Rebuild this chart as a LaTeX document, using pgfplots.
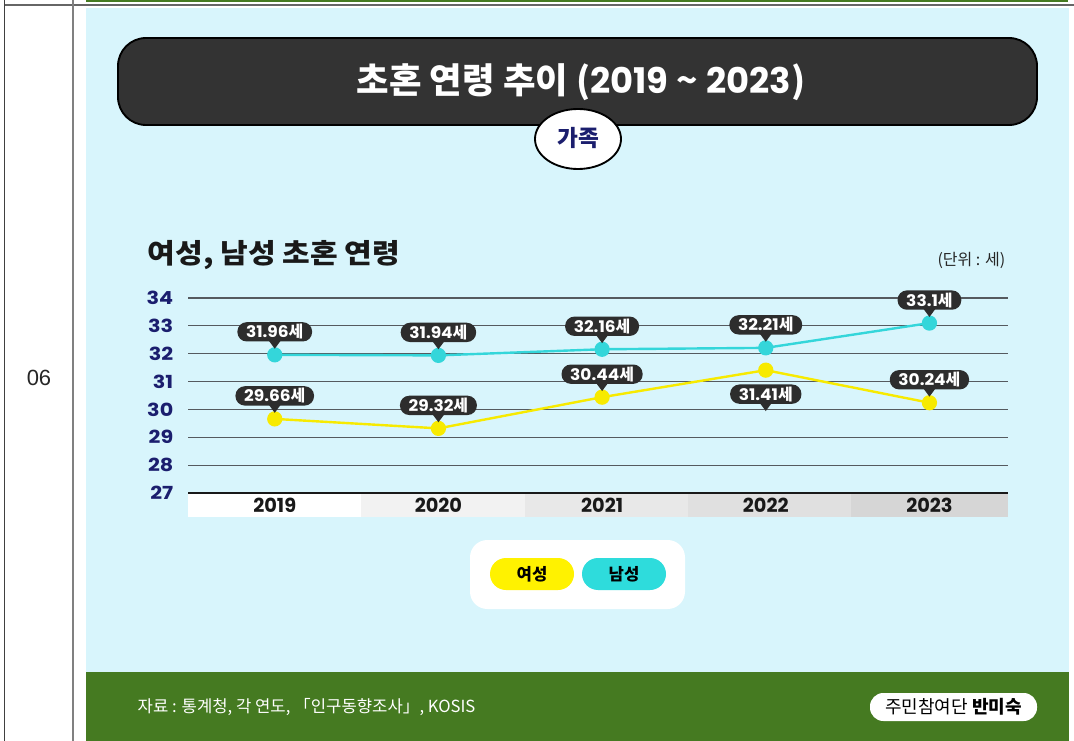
\documentclass[border=0pt]{standalone}
\usepackage{fontspec}
\setmainfont{Noto Sans CJK KR}
\newfontfamily\pop{Poppins}
\newfontfamily\lib{Liberation Sans}
\usepackage{graphicx}
\usepackage{pgfplots}
\usepackage{pgfplotstable}
\pgfplotsset{compat=1.18}

\definecolor{panel}{RGB}{216,245,252}
\definecolor{gfoot}{RGB}{69,122,33}
\definecolor{titlebg}{RGB}{51,51,51}
\definecolor{labbg}{RGB}{45,45,45}
\definecolor{navy}{RGB}{27,30,110}
\definecolor{malec}{RGB}{52,214,218}
\definecolor{femc}{RGB}{247,234,0}
\definecolor{maleleg}{RGB}{46,220,220}
\definecolor{femleg}{RGB}{255,242,0}
\definecolor{gridc}{RGB}{85,90,95}

\newcommand{\lbl}[1]{{\pop\bfseries\scalebox{1.06}[1]{#1}}{\bfseries 세}}

\pgfplotstableread{
x y lab dy
0 31.96 31.96 17.25
1 31.94 31.94 17.25
2 32.16 32.16 17.25
3 32.21 32.21 17.25
4 33.1 33.1 17.25
}\male
\pgfplotstableread{
x y lab dy
0 29.66 29.66 17.25
1 29.32 29.32 17.25
2 30.44 30.44 17.25
3 31.41 31.41 -18
4 30.24 30.24 17.25
}\female

\begin{document}
\begin{tikzpicture}[x=0.75pt,y=-0.75pt]
\useasboundingbox (0,0) rectangle (1074,741);
\fill[white] (0,0) rectangle (1074,741);
\fill[panel] (86,8) rectangle (1069,672);
\fill[gfoot] (86,672) rectangle (1069,741);
\fill[gfoot] (86,0) rectangle (1068,2.5);
\draw[gray!80!black, line width=1.1pt] (4,5) -- (1074,5);
\draw[black!75, line width=1.1pt] (4.5,0) -- (4.5,741);
\draw[gray, line width=1.1pt] (73,0) -- (73,741);
\node[font=\lib\fontsize{16.5pt}{18pt}\selectfont, text=black!85] at (39,378) {06};

% title box
\draw[fill=titlebg, draw=black, line width=1.4pt, rounded corners=21pt] (118,38) rectangle (1037,125);
\node[text=white, font=\bfseries\fontsize{26.5pt}{30pt}\selectfont] at (581,82) {초혼 연령 추이 ({\pop 2019} \textasciitilde{} {\pop 2023})};
\draw[fill=white, draw=black, line width=1.4pt] (578,139) ellipse [x radius=43, y radius=30];
\node[text=navy, font=\bfseries\fontsize{17pt}{19pt}\selectfont] at (578,138) {가족};

% subtitle
\node[anchor=west, font=\bfseries\fontsize{20.5pt}{23pt}\selectfont, text=black!90] at (143,255) {\scalebox{1.1}[1]{여성, 남성 초혼 연령}};
\node[anchor=east, font=\fontsize{12pt}{14pt}\selectfont, text=black!85] at (1010,260) {(단위 : 세)};

% x label bands
\fill[white] (188,493) rectangle (361,517);
\fill[black!5] (361,493) rectangle (525,517);
\fill[black!9] (525,493) rectangle (688,517);
\fill[black!12] (688,493) rectangle (851,517);
\fill[black!16] (851,493) rectangle (1008,517);

\begin{axis}[
  at={(141pt,-369.75pt)}, anchor=south west,
  scale only axis, width=615pt, height=146.25pt,
  xmin=-0.53, xmax=4.48, ymin=27, ymax=34,
  ytick={27,28,...,34}, xtick={0,1,2,3,4},
  xticklabels={2019,2020,2021,2022,2023},
  axis line style={draw=none}, major tick length=0pt,
  ymajorgrids, grid style={draw=gridc, line width=0.8pt},
  clip=false,
  /pgf/number format/assume math mode=true,
  yticklabel style={font=\pop\bfseries\fontsize{13.5pt}{15pt}\selectfont, text=navy, anchor=east, xshift=-7pt, xscale=1.15},
  xticklabel style={font=\pop\bfseries\fontsize{14.5pt}{16pt}\selectfont, text=black!90, anchor=center, yshift=-9pt},
  point meta=explicit symbolic,
  every node near coord/.style={anchor=center, fill=labbg, text=white, rounded corners=7pt,
    inner xsep=6.5pt, inner ysep=0pt, minimum height=14.5pt,
    font=\fontsize{12pt}{14pt}\selectfont,
    append after command={\pgfextra{\fill[labbg] ([xshift=-2.6pt,yshift=0.5pt]\tikzlastnode.south) -- ([xshift=2.6pt,yshift=0.5pt]\tikzlastnode.south) -- ([yshift=-3pt]\tikzlastnode.south) -- cycle;}}},
]
\addplot[malec, line width=1.8pt, mark=*, mark size=4.8pt, mark options={fill=malec, draw=malec},
  nodes near coords={\lbl{\pgfplotspointmeta}},
  visualization depends on={\thisrow{dy} \as \dyy},
  every node near coord/.append style={yshift=\dyy pt}]
  table[x=x, y=y, meta=lab] {\male};
\addplot[femc, line width=1.8pt, mark=*, mark size=4.8pt, mark options={fill=femc, draw=femc},
  nodes near coords={\lbl{\pgfplotspointmeta}},
  visualization depends on={\thisrow{dy} \as \dyy},
  every node near coord/.append style={yshift=\dyy pt}]
  table[x=x, y=y, meta=lab] {\female};
\end{axis}
\draw[black!90, line width=1.6pt] (188,493) -- (1008,493);

% legend
\fill[white, rounded corners=13pt] (470,540) rectangle (685,609);
\fill[femleg, rounded corners=12pt] (490,558) rectangle (574,590);
\fill[maleleg, rounded corners=12pt] (582,558) rectangle (666,590);
\node[font=\bfseries\fontsize{12.5pt}{14pt}\selectfont] at (532,574) {여성};
\node[font=\bfseries\fontsize{12.5pt}{14pt}\selectfont] at (624,574) {남성};

% footer
\node[anchor=west, text=white, font=\fontsize{12.5pt}{14pt}\selectfont] at (133,707) {자료 : 통계청, 각 연도, 「인구동향조사」, KOSIS};
\fill[white, rounded corners=10pt] (870,693) rectangle (1037,721);
\node[font=\fontsize{13.5pt}{15pt}\selectfont] at (953.5,707) {주민참여단 \textbf{반미숙}};
\end{tikzpicture}
\end{document}
